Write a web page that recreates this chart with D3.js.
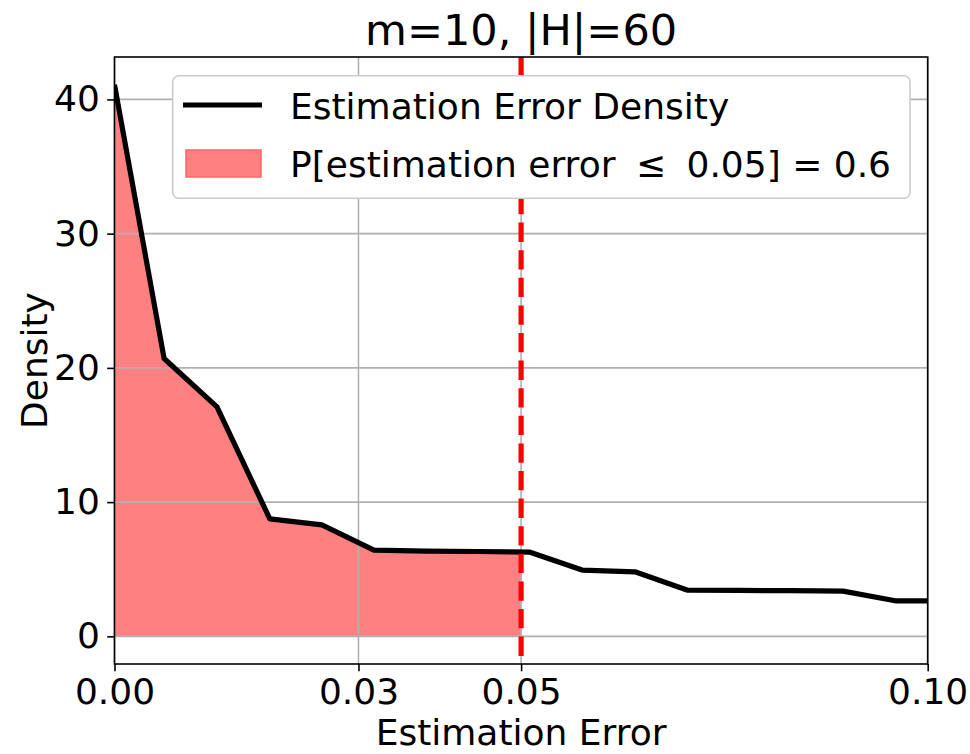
<!DOCTYPE html>
<html>
<head>
<meta charset="utf-8">
<script src="https://cdn.jsdelivr.net/npm/d3@7"></script>
<style>
  body { margin: 0; background: #fff; }
  text { font-family: "DejaVu Sans", sans-serif; fill: #000; }
</style>
</head>
<body>
<div id="chart"></div>
<script>
// values
var errors  = [0, 0.0061, 0.0126, 0.0191, 0.0255, 0.0319, 0.0383, 0.0447, 0.0511,
               0.0575, 0.0640, 0.0704, 0.0768, 0.0832, 0.0896, 0.0960, 0.1024];
var density = [41.1, 20.7, 17.1, 8.75, 8.3, 6.43, 6.35, 6.32, 6.27,
               4.94, 4.81, 3.45, 3.42, 3.40, 3.37, 2.65, 2.63];
var xTicks = [0, 0.03, 0.05, 0.10];
var xTickLabels = ["0.00", "0.03", "0.05", "0.10"];
var yTicks = [0, 10, 20, 30, 40];
var threshold = 0.05;
var titleText = "m=10, |H|=60";
var lineLabel = "Estimation Error Density";
var areaLabel = "P[estimation error \u2005\u2264\u2005 0.05] = 0.6";

var W = 970, H = 754;
var pL = 114.5, pR = 927.7, pT = 57, pB = 664;
var fs = 36;

var svg = d3.select("#chart").append("svg")
  .attr("width", W).attr("height", H);

var x = d3.scaleLinear().domain([0, 0.1]).range([pL, pR]);
var y = d3.scaleLinear().domain([-2.06, 43.16]).range([pB, pT]);

var pts = errors.map(function(e, i){ return {e: e, d: density[i]}; });

/* clip to the axes box */
svg.append("clipPath").attr("id", "clip")
  .append("rect").attr("x", pL).attr("y", pT)
  .attr("width", pR - pL).attr("height", pB - pT);

/* filled area up to the threshold, closing at the interpolated value */
var below = pts.filter(function(p){ return p.e <= threshold; });
var k = below.length;
var tFrac = (threshold - pts[k-1].e) / (pts[k].e - pts[k-1].e);
below.push({e: threshold, d: pts[k-1].d + tFrac * (pts[k].d - pts[k-1].d)});

svg.append("path")
  .datum(below)
  .attr("clip-path", "url(#clip)")
  .attr("fill", "#ff8080")
  .attr("d", d3.area()
    .x(function(p){ return x(p.e); })
    .y0(y(0))
    .y1(function(p){ return y(p.d); }));

/* grid */
var grid = svg.append("g").attr("stroke", "#b0b0b0").attr("stroke-width", 1.6);
grid.selectAll("line.gx").data(xTicks).enter().append("line")
  .attr("x1", function(d){ return x(d); }).attr("x2", function(d){ return x(d); })
  .attr("y1", pT).attr("y2", pB);
grid.selectAll("line.gy").data(yTicks).enter().append("line")
  .attr("y1", function(d){ return y(d); }).attr("y2", function(d){ return y(d); })
  .attr("x1", pL).attr("x2", pR);

/* density line */
svg.append("path")
  .datum(pts)
  .attr("clip-path", "url(#clip)")
  .attr("fill", "none")
  .attr("stroke", "#000")
  .attr("stroke-width", 5.2)
  .attr("stroke-linejoin", "round")
  .attr("d", d3.line()
    .x(function(p){ return x(p.e); })
    .y(function(p){ return y(p.d); }));

/* threshold marker */
svg.append("line")
  .attr("x1", x(threshold)).attr("x2", x(threshold))
  .attr("y1", pT).attr("y2", pB)
  .attr("stroke", "red").attr("stroke-width", 5.2)
  .attr("stroke-dasharray", "19.3,8.3");

/* axes */
var xAxis = svg.append("g").attr("transform", "translate(0," + pB + ")")
  .call(d3.axisBottom(x).tickValues(xTicks)
    .tickFormat(function(d, i){ return xTickLabels[i]; })
    .tickSize(7.3).tickPadding(7.3));
var yAxis = svg.append("g").attr("transform", "translate(" + pL + ",0)")
  .call(d3.axisLeft(y).tickValues(yTicks).tickSize(7.3).tickPadding(7.3));
[xAxis, yAxis].forEach(function(a){
  a.select(".domain").remove();
  a.selectAll("line").attr("stroke", "#000").attr("stroke-width", 1.6);
  a.selectAll("text").style("font-size", fs + "px").style("font-family", "DejaVu Sans");
});

/* frame */
svg.append("rect")
  .attr("x", pL).attr("y", pT)
  .attr("width", pR - pL).attr("height", pB - pT)
  .attr("fill", "none").attr("stroke", "#000").attr("stroke-width", 1.6);

/* labels */
svg.append("text")
  .attr("x", (pL + pR) / 2).attr("y", 45)
  .attr("text-anchor", "middle").style("font-size", "43px")
  .text(titleText);
svg.append("text")
  .attr("x", (pL + pR) / 2).attr("y", 745)
  .attr("text-anchor", "middle").style("font-size", fs + "px")
  .text("Estimation Error");
svg.append("text")
  .attr("transform", "translate(46.5," + ((pT + pB) / 2) + ") rotate(-90)")
  .attr("text-anchor", "middle").style("font-size", fs + "px")
  .text("Density");

/* legend */
var lg = svg.append("g");
lg.append("rect")
  .attr("x", 172.7).attr("y", 75.7).attr("width", 737.3).attr("height", 122.6)
  .attr("rx", 6).attr("fill", "#fff")
  .attr("stroke", "#cccccc").attr("stroke-width", 1.6);
lg.append("line")
  .attr("x1", 183).attr("x2", 262).attr("y1", 105).attr("y2", 105)
  .attr("stroke", "#000").attr("stroke-width", 5.2);
lg.append("rect")
  .attr("x", 186).attr("y", 150).attr("width", 75).attr("height", 27)
  .attr("fill", "#ff8080").attr("stroke", "#ff6666").attr("stroke-width", 1.5);
lg.append("text").attr("x", 290).attr("y", 119).style("font-size", fs + "px").text(lineLabel);
lg.append("text").attr("x", 290).attr("y", 176.5).style("font-size", fs + "px")
  .style("white-space", "pre").text(areaLabel);
</script>
</body>
</html>
